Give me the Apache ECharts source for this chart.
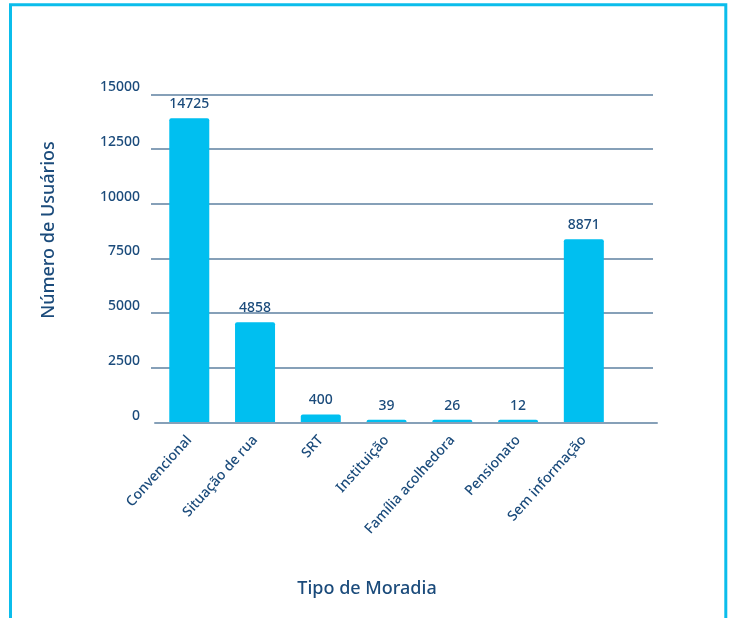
<!DOCTYPE html>
<html>
<head>
<meta charset="utf-8">
<script src="https://cdn.jsdelivr.net/npm/echarts@6/dist/echarts.min.js"></script>
<style>
html,body{margin:0;padding:0;background:#fff;}
#c{width:730px;height:618px;}
</style>
</head>
<body>
<div id="c"></div>
<script>
var categories = ['Convencional', 'Situação de rua', 'SRT', 'Instituição', 'Família acolhedora', 'Pensionato', 'Sem informação'];
var usuarios = [14725, 4858, 400, 39, 26, 12, 8871];
var yTickMax = 15000;
var yTickStep = 2500;
var barScaleMax = 15886;

var navy = '#1B4B7B';
var font = 'Noto Sans';
var chart = echarts.init(document.getElementById('c'), null, {renderer: 'canvas'});
chart.setOption({
  backgroundColor: '#fff',
  animation: false,
  grid: [
    {left: 156.4, right: 113.3, top: 94.3, bottom: 195.3},
    {left: 151, right: 77, top: 94.3, bottom: 195.3},
    {left: 155, right: 73, top: 94.3, bottom: 195.3}
  ],
  xAxis: [
    {gridIndex: 0, type: 'category', data: categories,
     axisLine: {show: false}, axisTick: {show: false},
     axisLabel: {rotate: 48, interval: 0, margin: 15, color: navy, fontSize: 14, fontFamily: font, fontWeight: 500}},
    {gridIndex: 1, type: 'value', show: false},
    {gridIndex: 2, type: 'value', z: 10,
     axisLine: {show: true, lineStyle: {color: '#86A0B8', width: 2}},
     axisTick: {show: false}, axisLabel: {show: false}, splitLine: {show: false}}
  ],
  yAxis: [
    {gridIndex: 0, type: 'value', min: 0, max: barScaleMax, show: false},
    {gridIndex: 1, type: 'value', min: 0, max: yTickMax, interval: yTickStep,
     axisLine: {show: false}, axisTick: {show: false},
     axisLabel: {color: navy, fontSize: 14, fontFamily: font, fontWeight: 500, margin: 11, verticalAlign: 'bottom',
                 formatter: function (v) { return String(v); }},
     splitLine: {show: true, showMinLine: false, lineStyle: {color: '#86A0B8', width: 2}}},
    {gridIndex: 2, type: 'value', show: false}
  ],
  series: [{
    type: 'bar', xAxisIndex: 0, yAxisIndex: 0,
    data: usuarios,
    barWidth: 40,
    barMinHeight: 3,
    itemStyle: {color: '#00BFF0', borderRadius: [2, 2, 0, 0]},
    label: {show: true, position: 'top', distance: 7, color: navy, fontSize: 14, fontFamily: font, fontWeight: 500}
  }],
  graphic: [
    {type: 'rect', shape: {x: 10.5, y: 4.7, width: 715.3, height: 700}, style: {fill: 'none', stroke: '#0BBDEB', lineWidth: 3}, silent: true},
    {type: 'text', x: 49, y: 230, rotation: Math.PI / 2,
     style: {text: 'Número de Usuários', fill: navy, fontSize: 18, fontFamily: font, fontWeight: 500, textAlign: 'center', textVerticalAlign: 'middle'}},
    {type: 'text', x: 367, y: 589,
     style: {text: 'Tipo de Moradia', fill: navy, fontSize: 18, fontFamily: font, fontWeight: 500, textAlign: 'center', textVerticalAlign: 'middle'}}
  ]
});
</script>
</body>
</html>
